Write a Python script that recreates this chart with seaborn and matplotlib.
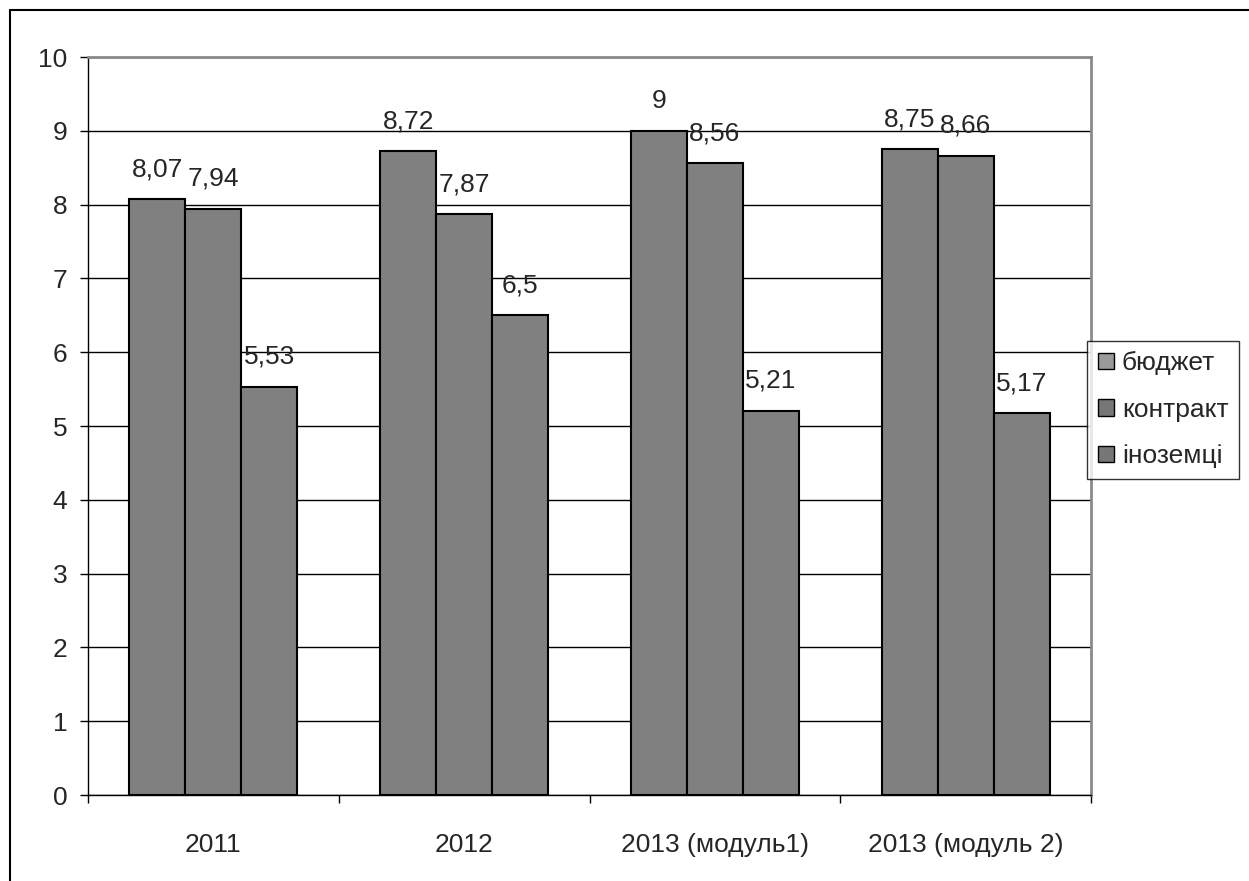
import pandas as pd
import matplotlib.pyplot as plt
import seaborn as sns
from matplotlib.patches import Patch
from matplotlib.lines import Line2D

# дані з діаграми
categories = ['2011', '2012', '2013 (модуль1)', '2013 (модуль 2)']
budget = [8.07, 8.72, 9.00, 8.75]
contract = [7.94, 7.87, 8.56, 8.66]
foreign = [5.53, 6.50, 5.21, 5.17]
series_names = ['бюджет', 'контракт', 'іноземці']
labels_budget = ['8,07', '8,72', '9', '8,75']
labels_contract = ['7,94', '7,87', '8,56', '8,66']
labels_foreign = ['5,53', '6,5', '5,21', '5,17']

df = pd.DataFrame({
    'cat': categories * 3,
    'group': [series_names[0]] * 4 + [series_names[1]] * 4 + [series_names[2]] * 4,
    'val': budget + contract + foreign,
})

sns.set_style('white')
plt.rcParams['font.family'] = ['Liberation Sans', 'DejaVu Sans']
fs = 19
plt.rcParams['font.size'] = fs

fig = plt.figure(figsize=(12.49, 8.81), dpi=100)
ax = fig.add_axes([0.0705, 0.0976, 0.8030, 0.8377])

sns.barplot(data=df, x='cat', y='val', hue='group', order=categories,
            hue_order=series_names, palette=['#808080'] * 3, width=0.67,
            edgecolor='black', linewidth=1.5, saturation=1, ax=ax, legend=False)

for cont, labs in zip(ax.containers, [labels_budget, labels_contract, labels_foreign]):
    ax.bar_label(cont, labels=labs, padding=13, fontsize=fs)

ax.set_ylim(0, 10)
ax.set_xlim(-0.5, 3.5)
ax.set_yticks(range(0, 11))
ax.yaxis.grid(True, color='black', linewidth=1)
ax.set_axisbelow(True)
ax.tick_params(axis='y', length=6, width=1, color='black', pad=9, left=True, labelsize=fs)

ax.set_xticks([-0.5, 0.5, 1.5, 2.5, 3.5])
ax.set_xticklabels([])
ax.set_xticks(range(4), minor=True)
ax.set_xticklabels(categories, minor=True)
ax.tick_params(axis='x', which='major', length=6, width=1, color='black', bottom=True)
ax.tick_params(axis='x', which='minor', length=0, pad=27, labelsize=fs)
ax.set_xlabel('')
ax.set_ylabel('')

for s in ['left', 'bottom']:
    ax.spines[s].set_color('black')
    ax.spines[s].set_linewidth(1)
for s in ['top', 'right']:
    ax.spines[s].set_color('#8a8a8a')
    ax.spines[s].set_linewidth(2)

handles = [Patch(facecolor='#9a9a9a', edgecolor='black'),
           Patch(facecolor='#777777', edgecolor='black'),
           Patch(facecolor='#777777', edgecolor='black')]
leg = ax.legend(handles, series_names, loc='center left', bbox_to_anchor=(0.9965, 0.522),
                frameon=True, fancybox=False, edgecolor='black', fontsize=fs,
                handlelength=0.6, handleheight=0.6, handletextpad=0.3,
                labelspacing=0.85, borderpad=0.4, borderaxespad=0)
leg.get_frame().set_linewidth(1)

# зовнішня рамка
fig.add_artist(Line2D([10 / 1249, 10 / 1249], [0, 1 - 10 / 881], color='black', linewidth=1.5))
fig.add_artist(Line2D([10 / 1249, 1], [1 - 10 / 881, 1 - 10 / 881], color='black', linewidth=1.5))

fig.savefig('out.png', dpi=100)
